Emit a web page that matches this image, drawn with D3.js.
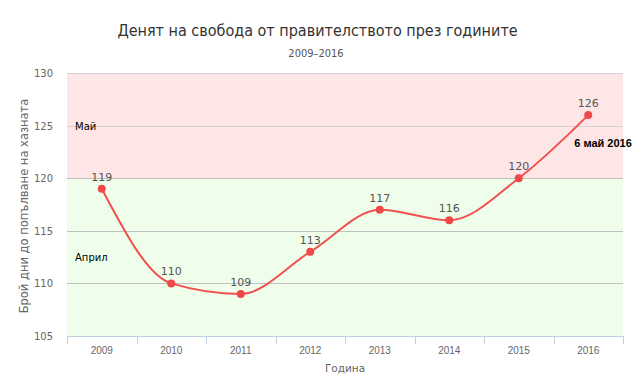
<!DOCTYPE html>
<html>
<head>
<meta charset="utf-8">
<script src="https://cdn.jsdelivr.net/npm/d3@7"></script>
<style>
  body { margin: 0; background: #fff; }
  svg { font-family: "DejaVu Sans", Verdana, sans-serif; }
</style>
</head>
<body>
<script>
// chart data
var years = ["2009", "2010", "2011", "2012", "2013", "2014", "2015", "2016"];
var days = [119, 110, 109, 113, 117, 116, 120, 126];
var yTicks = [105, 110, 115, 120, 125, 130];
var bands = [
  {from: 120, to: 130, label: "Май", labelAt: 125, color: "#ffe6e6"},
  {from: 105, to: 120, label: "Април", labelAt: 112.5, color: "#effeea"}
];

var margin = {top: 73, right: 12, bottom: 50, left: 67},
    width = 635 - margin.left - margin.right,
    height = 386 - margin.top - margin.bottom;

var svg = d3.select("body").append("svg")
  .attr("width", 635)
  .attr("height", 386);

var g = svg.append("g")
  .attr("transform", "translate(" + margin.left + "," + margin.top + ")");

var x = d3.scaleBand().domain(years).range([0, width]);
var y = d3.scaleLinear().domain([105, 130]).range([height, 0]);

// plot bands
g.selectAll(".band").data(bands).enter().append("rect")
  .attr("x", 0)
  .attr("width", width)
  .attr("y", function(d) { return y(d.to); })
  .attr("height", function(d) { return y(d.from) - y(d.to); })
  .attr("fill", function(d) { return d.color; });

// grid lines
g.selectAll(".grid").data(yTicks.slice(1)).enter().append("line")
  .attr("x1", 0).attr("x2", width)
  .attr("y1", function(d) { return Math.round(y(d)) + 0.5; })
  .attr("y2", function(d) { return Math.round(y(d)) + 0.5; })
  .attr("stroke", function(d) { return d == 130 || d == 125 ? "#d8d0d0" : "#c0c0c0"; })
  .attr("stroke-width", 1);

// band labels
g.selectAll(".bandlabel").data(bands).enter().append("text")
  .attr("x", 8)
  .attr("y", function(d) { return y(d.labelAt) + 4; })
  .attr("font-size", "10px")
  .attr("fill", "#000")
  .text(function(d) { return d.label; });

// Y axis labels
g.selectAll(".ylab").data(yTicks).enter().append("text")
  .attr("x", -14)
  .attr("y", function(d) { return y(d) + 4; })
  .attr("text-anchor", "end")
  .attr("font-size", "10px")
  .attr("fill", "#666")
  .text(function(d) { return d; });

// X axis
var xAxis = g.append("g")
  .attr("transform", "translate(0," + height + ")")
  .call(d3.axisBottom(x).tickValues([]).tickSize(0).tickSizeOuter(0));
xAxis.select(".domain").attr("stroke", "#c0d0e0");

var bounds = years.map(function(d) { return x(d); }).concat([width]);
xAxis.selectAll(".xt").data(bounds).enter().append("line")
  .attr("x1", function(d) { return Math.round(d) + 0.5; })
  .attr("x2", function(d) { return Math.round(d) + 0.5; })
  .attr("y1", 0).attr("y2", 8)
  .attr("stroke", "#c0d0e0");

xAxis.selectAll(".xl").data(years).enter().append("text")
  .attr("x", function(d) { return x(d) + x.bandwidth() / 2; })
  .attr("y", 18)
  .attr("text-anchor", "middle")
  .attr("font-size", "10px")
  .attr("fill", "#666")
  .text(function(d) { return d; });

// the line
var line = d3.line()
  .x(function(d, i) { return x(years[i]) + x.bandwidth() / 2; })
  .y(function(d) { return y(d); })
  .curve(d3.curveMonotoneX);

g.append("path")
  .datum(days)
  .attr("fill", "none")
  .attr("stroke", "#f05050")
  .attr("stroke-width", 2)
  .attr("d", line);

g.selectAll(".dot").data(days).enter().append("circle")
  .attr("cx", function(d, i) { return x(years[i]) + x.bandwidth() / 2; })
  .attr("cy", function(d) { return y(d); })
  .attr("r", 4)
  .attr("fill", "#f04848");

g.selectAll(".val").data(days).enter().append("text")
  .attr("x", function(d, i) { return x(years[i]) + x.bandwidth() / 2; })
  .attr("y", function(d) { return y(d) - 8; })
  .attr("text-anchor", "middle")
  .attr("font-size", "11px")
  .attr("fill", "#555")
  .text(function(d) { return d; });

// annotation on last point
g.append("text")
  .attr("x", x("2016") + x.bandwidth() / 2 - 14)
  .attr("y", y(126) + 32)
  .attr("font-family", "'Liberation Sans', Arial, sans-serif")
  .attr("font-size", "11px")
  .attr("font-weight", "bold")
  .attr("fill", "#000")
  .text("6 май 2016");

// titles
svg.append("text")
  .attr("x", 317.5).attr("y", 36)
  .attr("text-anchor", "middle")
  .attr("font-family", "'DejaVu Sans Condensed', 'DejaVu Sans', sans-serif")
  .attr("font-size", "16px")
  .attr("fill", "#333")
  .text("Денят на свобода от правителството през годините");

svg.append("text")
  .attr("x", 316).attr("y", 57)
  .attr("text-anchor", "middle")
  .attr("font-family", "'DejaVu Sans Condensed', 'DejaVu Sans', sans-serif")
  .attr("font-size", "11px")
  .attr("fill", "#555")
  .text("2009–2016");

svg.append("text")
  .attr("x", margin.left + width / 2).attr("y", 372)
  .attr("text-anchor", "middle")
  .attr("font-size", "10.5px")
  .attr("fill", "#666")
  .text("Година");

svg.append("text")
  .attr("transform", "translate(28,206) rotate(-90)")
  .attr("text-anchor", "middle")
  .attr("font-size", "11.5px")
  .attr("fill", "#666")
  .text("Брой дни до попълване на хазната");
</script>
</body>
</html>
